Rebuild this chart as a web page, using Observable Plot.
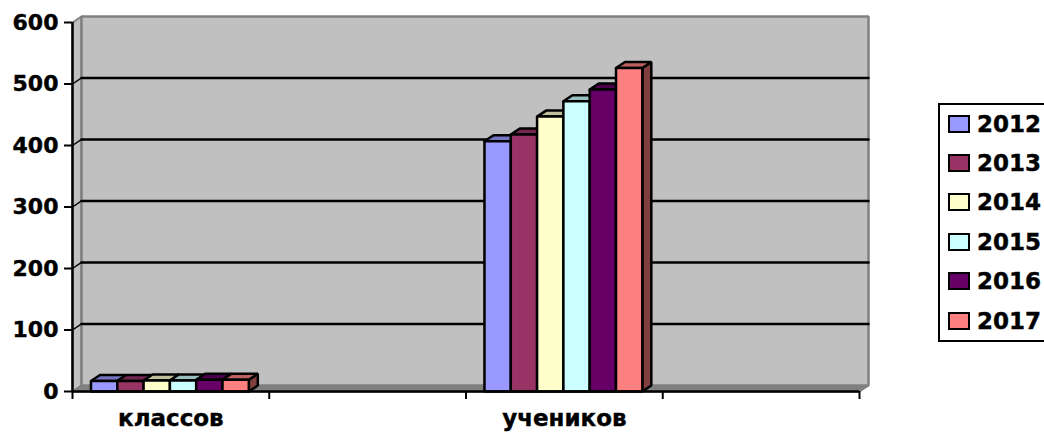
<!DOCTYPE html>
<html><head><meta charset="utf-8">
<script src="https://cdn.jsdelivr.net/npm/d3@7"></script>
<script src="https://cdn.jsdelivr.net/npm/@observablehq/plot@0.6"></script>
<style>
html,body{margin:0;padding:0;background:#fff;overflow:hidden}
#wrap{position:relative;width:1044px;height:432px}
svg text{stroke:#000;stroke-width:.4px}
#legend{position:absolute;left:938px;top:103px;width:120px;height:235px;border:2px solid #000;box-sizing:content-box;font:bold 23px "DejaVu Sans";color:#000;-webkit-text-stroke:.4px #000}
#legend .row{position:absolute;left:8px;display:flex;align-items:center;height:24px}
#legend .sw{width:18px;height:14px;border:2px solid #000;margin-right:7px;display:inline-block}
</style></head><body><div id="wrap"></div>
<script>
const categories = ["классов", "", "учеников", ""];
const years = ["2012", "2013", "2014", "2015", "2016", "2017"];
const classes = [17, 17, 18, 18, 19, 19];
const students = [407, 418, 447, 472, 491, 526];
const colors = ["#9999ff", "#993366", "#ffffcc", "#ccffff", "#660066", "#ff8080"];
const topColors = ["#7373bf", "#732650", "#bfbf99", "#99bfbf", "#4d004d", "#bf6060"];
const sideColors = ["#4d4d80", "#4d1a33", "#808066", "#668080", "#330033", "#804040"];
const yTicks = [0, 100, 200, 300, 400, 500, 600];
const xEdges = [0, 1, 2, 3, 4];

const barW = 0.1337, pad = (1 - 6 * barW) / 2 - 0.005;
const depthX = 0.0458, depthY = 9.76;
const poly = pts => [...pts, pts[0]].map(([x, y]) => ({x, y}));
const face = (pts, fill, stroke = "#000", strokeWidth = 2.5) =>
  Plot.line(poly(pts), {x: "x", y: "y", fill, stroke, strokeWidth, strokeLinejoin: "miter"});

const marks = [
  // side wall, floor, back wall
  face([[0, 0], [0, 600], [depthX, 600 + depthY], [depthX, depthY]], "#c0c0c0", "#808080", 2),
  face([[0, 0], [4, 0], [4 + depthX, depthY], [depthX, depthY]], "#808080", "#808080", 2),
  face([[depthX, depthY], [depthX, 600 + depthY], [4 + depthX, 600 + depthY], [4 + depthX, depthY]], "#c0c0c0", "#808080", 2.5),
];
// gridlines on the back wall and the side wall
for (const t of yTicks.slice(1, -1)) {
  marks.push(Plot.line(poly([[depthX, t + depthY], [4 + depthX, t + depthY]]).slice(0, 2), {x: "x", y: "y", stroke: "#000", strokeWidth: 2.5}));
  marks.push(Plot.line(poly([[0, t], [depthX, t + depthY]]).slice(0, 2), {x: "x", y: "y", stroke: "#000", strokeWidth: 1.5}));
}
// 3-D bars, drawn left to right
[[0, classes], [2, students]].forEach(([cat, values]) => {
  values.forEach((v, j) => {
    const x1 = cat + pad + j * barW, x2 = x1 + barW;
    marks.push(face([[x2, 0], [x2 + depthX, depthY], [x2 + depthX, v + depthY], [x2, v]], sideColors[j]));
    marks.push(face([[x1, v], [x1 + depthX, v + depthY], [x2 + depthX, v + depthY], [x2, v]], topColors[j]));
    marks.push(face([[x1, 0], [x1, v], [x2, v], [x2, 0]], colors[j]));
  });
});
// axes
marks.push(Plot.ruleX([0], {y1: 0, y2: 600, stroke: "#000", strokeWidth: 2.5}));
marks.push(Plot.ruleY([0], {x1: 0, x2: 4, stroke: "#000", strokeWidth: 2.5}));
marks.push(Plot.axisY({ticks: yTicks, tickSize: 8, tickPadding: 6, strokeWidth: 2, stroke: "#000", fill: "#000", fontSize: 22, fontWeight: "bold", label: null}));
marks.push(Plot.axisX({ticks: xEdges, tickSize: 8, strokeWidth: 2, stroke: "#000", tickFormat: () => "", label: null}));
marks.push(Plot.text(categories.map((c, i) => ({c, i})).filter(d => d.c), {
  x: d => d.i + 0.5, y: 0, text: "c", dy: 27.5, fontSize: 23, fontWeight: "bold", fill: "#000"
}));

const chart = Plot.plot({
  width: 1044, height: 432,
  marginLeft: 72, marginRight: 185, marginTop: 22, marginBottom: 41,
  style: {fontFamily: "DejaVu Sans", background: "#fff", overflow: "visible"},
  x: {type: "linear", domain: [0, 4], axis: null},
  y: {domain: [0, 600], axis: null},
  marks
});
const wrap = document.getElementById("wrap");
wrap.appendChild(chart);
const legend = document.createElement("div");
legend.id = "legend";
years.forEach((y, i) => {
  const r = document.createElement("div");
  r.className = "row";
  r.style.top = (6.5 + i * 39.4) + "px";
  r.innerHTML = `<span class="sw" style="background:${colors[i]}"></span><span>${y}</span>`;
  legend.appendChild(r);
});
wrap.appendChild(legend);
</script></body></html>
